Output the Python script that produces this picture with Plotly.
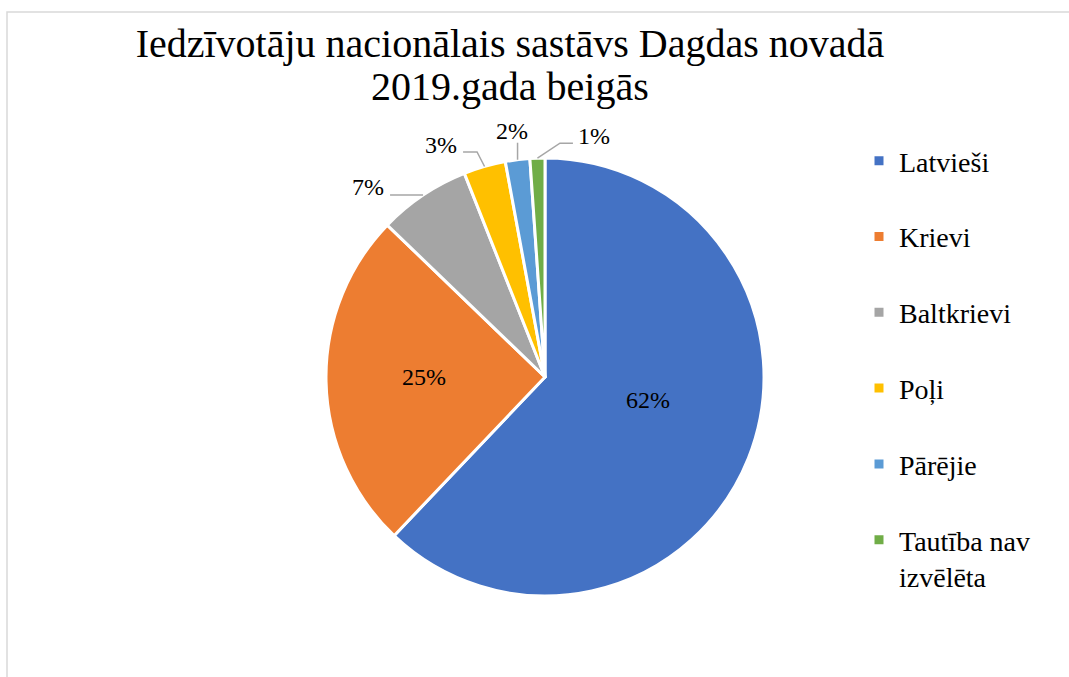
import math
import plotly.graph_objects as go

# ---- data ----
labels = ["Latvieši", "Krievi", "Baltkrievi", "Poļi", "Pārējie", "Tautība nav izvēlēta"]
legend_labels = ["Latvieši", "Krievi", "Baltkrievi", "Poļi", "Pārējie", "Tautība nav<br>izvēlēta"]
values = [62.1, 25.1, 6.8, 3.1, 1.8, 1.1]
colors = ["#4472C4", "#ED7D31", "#A5A5A5", "#FFC000", "#5B9BD5", "#70AD47"]
title_line1 = "Iedzīvotāju nacionālais sastāvs Dagdas novadā"
title_line2 = "2019.gada beigās"

# ---- layout constants ----
W, H = 1069, 677
CX, CY, R = 545, 377, 219
FONT = "Liberation Serif"

total = sum(values)
pcts = [f"{round(v / total * 100)}%" for v in values]

# legend entries padded to equal two-line height (spacing like the reference)
leg_text = [l if "<br>" in l else l + "<br> " for l in legend_labels]

fig = go.Figure(go.Pie(
    labels=leg_text,
    values=values,
    sort=False,
    direction="clockwise",
    rotation=0,
    marker=dict(colors=colors, line=dict(color="white", width=3)),
    textinfo="none",
    hoverinfo="label+percent",
    domain=dict(x=[(CX - R) / W, (CX + R) / W], y=[1 - (CY + R) / H, 1 - (CY - R) / H]),
))

def px2paper(x, y):
    return x / W, 1 - y / H

# slice mid angles (degrees clockwise from 12 o'clock)
mids = []
cum = 0.0
for v in values:
    mids.append((cum + v / 2) / total * 360)
    cum += v

def polar(theta, r):
    t = math.radians(theta)
    return CX + r * math.sin(t), CY - r * math.cos(t)

# label placement styles: inside labels (radius fraction, nudge) / outside labels (offsets from slice edge)
label_style = [
    dict(kind="in", r=0.48, nudge=(5, -16)),
    dict(kind="in", r=0.55, nudge=(-1, -3)),
    dict(kind="out", text=(-55, -8), path=[(0, 0), (0, 0), (-33, 0)]),
    dict(kind="out", text=(-44, -22), path=[(0, 0), (-7.5, -14.5), (-21.5, -14.5)]),
    dict(kind="out", text=(-6, -29), path=[(0, 0), (0, 0), (0, -17)]),
    dict(kind="out", text=(57, -22), path=[(0, 0), (22.5, -15), (35.5, -15)]),
]

annotations = []
shapes = []
for i, st in enumerate(label_style):
    if st["kind"] == "in":
        x, y = polar(mids[i], st["r"] * R)
        x += st["nudge"][0]
        y += st["nudge"][1]
    else:
        ex, ey = polar(mids[i], R)
        x, y = ex + st["text"][0], ey + st["text"][1]
        pts = [px2paper(ex + dx, ey + dy) for dx, dy in st["path"]]
        path = "M {} {} L {} {} L {} {}".format(*[c for p in pts for c in p])
        shapes.append(dict(type="path", xref="paper", yref="paper", path=path,
                           line=dict(color="#A6A6A6", width=1.5)))
    ax_, ay_ = px2paper(x, y)
    annotations.append(dict(text=pcts[i], x=ax_, y=ay_, xref="paper", yref="paper",
                            xanchor="center", yanchor="middle", showarrow=False,
                            font=dict(family=FONT, size=24, color="black")))

# second title line
annotations.append(dict(text=title_line2, x=510 / W, y=1 - 86 / H, xref="paper", yref="paper",
                        xanchor="center", yanchor="middle", showarrow=False,
                        font=dict(family=FONT, size=40, color="black")))

# chart frame
shapes.append(dict(type="rect", xref="paper", yref="paper",
                   x0=7 / W, x1=1.02, y0=-0.02, y1=1 - 12 / H,
                   line=dict(color="#D9D9D9", width=1.5)))

fig.update_layout(
    width=W, height=H,
    margin=dict(l=0, r=0, t=0, b=0),
    paper_bgcolor="white",
    plot_bgcolor="white",
    title=dict(text=title_line1, x=510 / W, xanchor="center", y=1 - 43 / H, yanchor="middle",
               font=dict(family=FONT, size=40, color="black")),
    showlegend=True,
    legend=dict(x=859 / W, xanchor="left", y=1 - 136 / H, yanchor="top",
                valign="top", font=dict(family=FONT, size=28, color="black"),
                bgcolor="rgba(0,0,0,0)", tracegroupgap=0),
    annotations=annotations,
    shapes=shapes,
)

fig.write_html("out.html", config={"displayModeBar": False},
               post_script="document.body.style.margin='0';document.body.style.padding='0';")
